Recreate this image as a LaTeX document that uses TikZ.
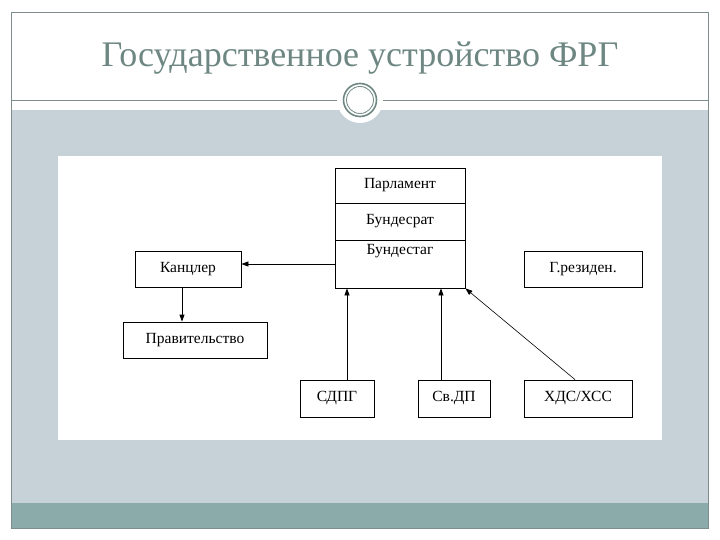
\documentclass[tikz,border=0pt]{standalone}
\usepackage{fontspec}
\setmainfont{Liberation Serif}
\usetikzlibrary{calc, positioning}
\usetikzlibrary{arrows.meta}

\definecolor{bandgray}{RGB}{198,209,216}
\definecolor{footteal}{RGB}{138,171,170}
\definecolor{titlegray}{RGB}{110,135,130}
\definecolor{framegray}{RGB}{125,140,140}

\tikzset{
  organ/.style={draw, thick, rectangle, inner sep=0pt, font=\fontsize{15.5}{18}\selectfont},
  link/.style={thick, -{Triangle[length=7pt,width=5pt]}},
  thinlink/.style={semithick, -{Triangle[length=7pt,width=5pt]}}
}

\begin{document}
\begin{tikzpicture}[x=1pt,y=-1pt]
\useasboundingbox (0,0) rectangle (720,540);

% Slide background and frame.
\fill[bandgray] (11,110) rectangle (708,503);
\fill[footteal] (11,503) rectangle (708,528);
\draw[framegray] (11,12) rectangle (708,528);
\draw[framegray] (11,100) -- (708,100);
\fill[white] (58,156) rectangle (662,440);

% Ornament on the title rule.
\fill[white] (360,100) circle (23);
\draw[titlegray,line width=1.6pt] (360,100) circle (16.5);
\draw[titlegray,line width=0.8pt] (360,100) circle (13.5);

% Title.
\node[text=titlegray, font=\fontsize{36}{42}\selectfont] (title) at (360,58)
  {Государственное устройство ФРГ};

% Parliament with its two chambers.
\node[organ, minimum width=130, minimum height=35] (parl) at (400,185.5) {Парламент};
\node[organ, minimum width=130, minimum height=37] (brat) at (400,221.5) {Бундесрат};
\node[organ, minimum width=130, minimum height=48,
  label={[organ, draw=none, anchor=north, yshift=-4pt]north:Бундестаг}] (btag) at (400,264) {};

% Executive.
\node[organ, minimum width=106, minimum height=36] (kanz) at (188,269) {Канцлер};
\node[organ, minimum width=144, minimum height=36] (prav) at (195,340) {Правительство};
\node[organ, minimum width=118, minimum height=36] (pres) at (583,269) {Г.резиден.};

% Parties.
\node[organ, minimum width=74, minimum height=37] (sdpg) at (337,398.5) {СДПГ};
\node[organ, minimum width=72, minimum height=37] (svdp) at (454,398.5) {Св.ДП};
\node[organ, minimum width=108, minimum height=37] (hds) at (578,398.5) {ХДС/ХСС};

% Connectors.
\draw[link] (btag.west) -- (btag.west -| kanz.east);
\draw[link] ($(kanz.south)+(-6,0)$) -- ($(kanz.south |- prav.north)+(-6,0)$);
\draw[link] (sdpg.north -| 347,0) -- (btag.south -| 347,0);
\draw[link] (svdp.north -| 441,0) -- (btag.south -| 441,0);
\draw[thinlink] ($(hds.north)+(-3,0)$) -- (btag.south east);
\end{tikzpicture}
\end{document}
